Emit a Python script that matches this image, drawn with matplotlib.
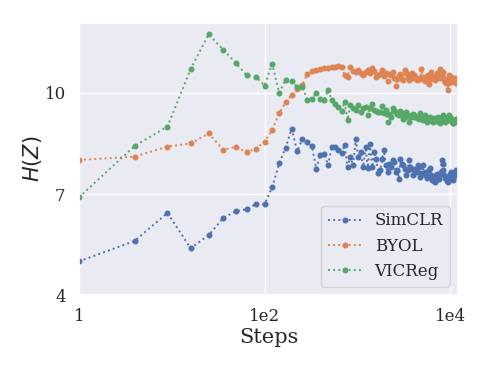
import matplotlib
matplotlib.use("Agg")
import matplotlib.pyplot as plt
import seaborn as sns

sns.set_theme(style="darkgrid")
plt.rcParams['font.family'] = ['DejaVu Serif']

# training steps (k^2 for k = 1..108)
steps = [1, 4, 9, 16, 25, 36, 49, 64, 81, 100, 121, 144, 169, 196, 225, 256,
         289, 324, 361, 400, 441, 484, 529, 576, 625, 676, 729, 784, 841, 900,
         961, 1024, 1089, 1156, 1225, 1296, 1369, 1444, 1521, 1600, 1681, 1764,
         1849, 1936, 2025, 2116, 2209, 2304, 2401, 2500, 2601, 2704, 2809, 2916,
         3025, 3136, 3249, 3364, 3481, 3600, 3721, 3844, 3969, 4096, 4225, 4356,
         4489, 4624, 4761, 4900, 5041, 5184, 5329, 5476, 5625, 5776, 5929, 6084,
         6241, 6400, 6561, 6724, 6889, 7056, 7225, 7396, 7569, 7744, 7921, 8100,
         8281, 8464, 8649, 8836, 9025, 9216, 9409, 9604, 9801, 10000, 10201,
         10404, 10609, 10816, 11025, 11236, 11449, 11664]

simclr = [5.00, 5.61, 6.44, 5.39, 5.78, 6.29, 6.49, 6.55, 6.70, 6.70,
          7.20, 7.91, 8.38, 8.94, 8.27, 8.64, 8.53, 8.42, 7.75, 8.17,
          8.20, 7.85, 8.40, 8.40, 8.30, 8.21, 8.45, 7.80, 8.11, 7.85,
          8.62, 8.10, 8.25, 7.80, 8.40, 7.78, 8.48, 7.80, 8.25, 8.05,
          7.62, 7.70, 8.05, 8.30, 7.85, 7.66, 7.90, 7.80, 8.00, 7.95,
          7.65, 7.70, 7.46, 8.05, 7.90, 7.86, 7.75, 7.55, 7.72, 8.00,
          7.80, 7.75, 7.55, 7.70, 7.75, 7.65, 7.85, 7.80, 7.50, 7.62,
          7.85, 7.60, 7.66, 7.55, 7.48, 7.52, 7.70, 7.76, 7.55, 7.42,
          7.50, 7.38, 7.36, 7.55, 7.60, 7.45, 7.46, 7.58, 7.66, 8.02,
          7.90, 7.70, 7.55, 7.48, 7.52, 7.40, 7.36, 7.45, 7.51, 7.60,
          7.66, 7.48, 7.42, 7.46, 7.60, 7.66, 7.55, 7.70]

byol = [8.01, 8.11, 8.41, 8.50, 8.80, 8.31, 8.40, 8.24, 8.35, 8.55,
        8.90, 9.40, 9.72, 9.93, 10.12, 10.24, 10.56, 10.65, 10.68, 10.70,
        10.74, 10.75, 10.77, 10.78, 10.79, 10.78, 10.52, 10.46, 10.76, 10.66,
        10.63, 10.68, 10.58, 10.53, 10.63, 10.68, 10.58, 10.73, 10.64, 10.48,
        10.53, 10.55, 10.68, 10.50, 10.60, 10.36, 10.55, 10.53, 10.62, 10.45,
        10.20, 10.42, 10.50, 10.55, 10.40, 10.38, 10.68, 10.60, 10.48, 10.38,
        10.55, 10.58, 10.45, 10.52, 10.46, 10.38, 10.42, 10.45, 10.40, 10.72,
        10.48, 10.40, 10.34, 10.45, 10.50, 10.53, 10.25, 10.42, 10.63, 10.50,
        10.48, 10.40, 10.38, 10.45, 10.58, 10.50, 10.44, 10.72, 10.48, 10.53,
        10.62, 10.45, 10.38, 10.32, 10.29, 10.40, 10.09, 10.30, 10.53, 10.45,
        10.48, 10.35, 10.38, 10.42, 10.33, 10.44, 10.36, 10.30]

vicreg = [6.90, 8.43, 9.00, 10.71, 11.74, 11.28, 10.89, 10.53, 10.47, 10.22,
          10.86, 10.00, 10.39, 10.36, 10.17, 10.19, 9.79, 9.83, 9.99, 9.82,
          9.80, 10.09, 9.79, 9.67, 9.59, 9.45, 9.74, 9.20, 9.64, 9.55,
          9.50, 9.64, 9.43, 9.54, 9.59, 9.35, 9.56, 9.68, 9.50, 9.45,
          9.42, 9.43, 9.62, 9.40, 9.50, 9.15, 9.37, 9.30, 9.54, 9.45,
          9.43, 9.38, 9.35, 9.45, 9.40, 9.23, 9.30, 9.43, 9.35, 9.15,
          9.28, 9.30, 9.36, 9.35, 9.30, 9.25, 9.28, 9.22, 9.40, 9.32,
          9.20, 9.28, 9.35, 9.22, 9.15, 9.20, 9.25, 9.30, 9.22, 9.18,
          9.15, 9.25, 9.20, 9.18, 9.25, 9.30, 9.15, 9.10, 9.22, 9.25,
          9.30, 9.35, 9.22, 9.15, 9.18, 9.25, 9.30, 9.35, 9.28, 9.20,
          9.25, 9.15, 9.12, 9.10, 9.18, 9.15, 9.20, 9.22]

series = [("SimCLR", simclr), ("BYOL", byol), ("VICReg", vicreg)]
colors = sns.color_palette("deep")

fig = plt.figure(figsize=(4.9, 3.68), dpi=100)
ax = fig.add_axes([0.161, 0.198, 0.774, 0.74])

for i, (name, vals) in enumerate(series):
    ax.plot(steps, vals, ls=':', lw=1.4, marker='o', ms=3.3,
            color=colors[i], label=name)

ax.set_xscale('log')
ax.set_xlim(1, 12200)
ax.set_ylim(4, 12.08)
ax.set_xticks([1, 100, 10000])
ax.set_xticklabels(['1', '1e2', '1e4'])
ax.minorticks_off()
ax.set_yticks([4, 7, 10])
ax.tick_params(labelsize=12)
ax.set_xlabel('Steps', fontsize=15, labelpad=2)
ax.set_ylabel(r'$H(Z)$', fontsize=15, labelpad=0)
ax.legend(loc='lower right', fontsize=12)

fig.savefig('out.png', dpi=100)
